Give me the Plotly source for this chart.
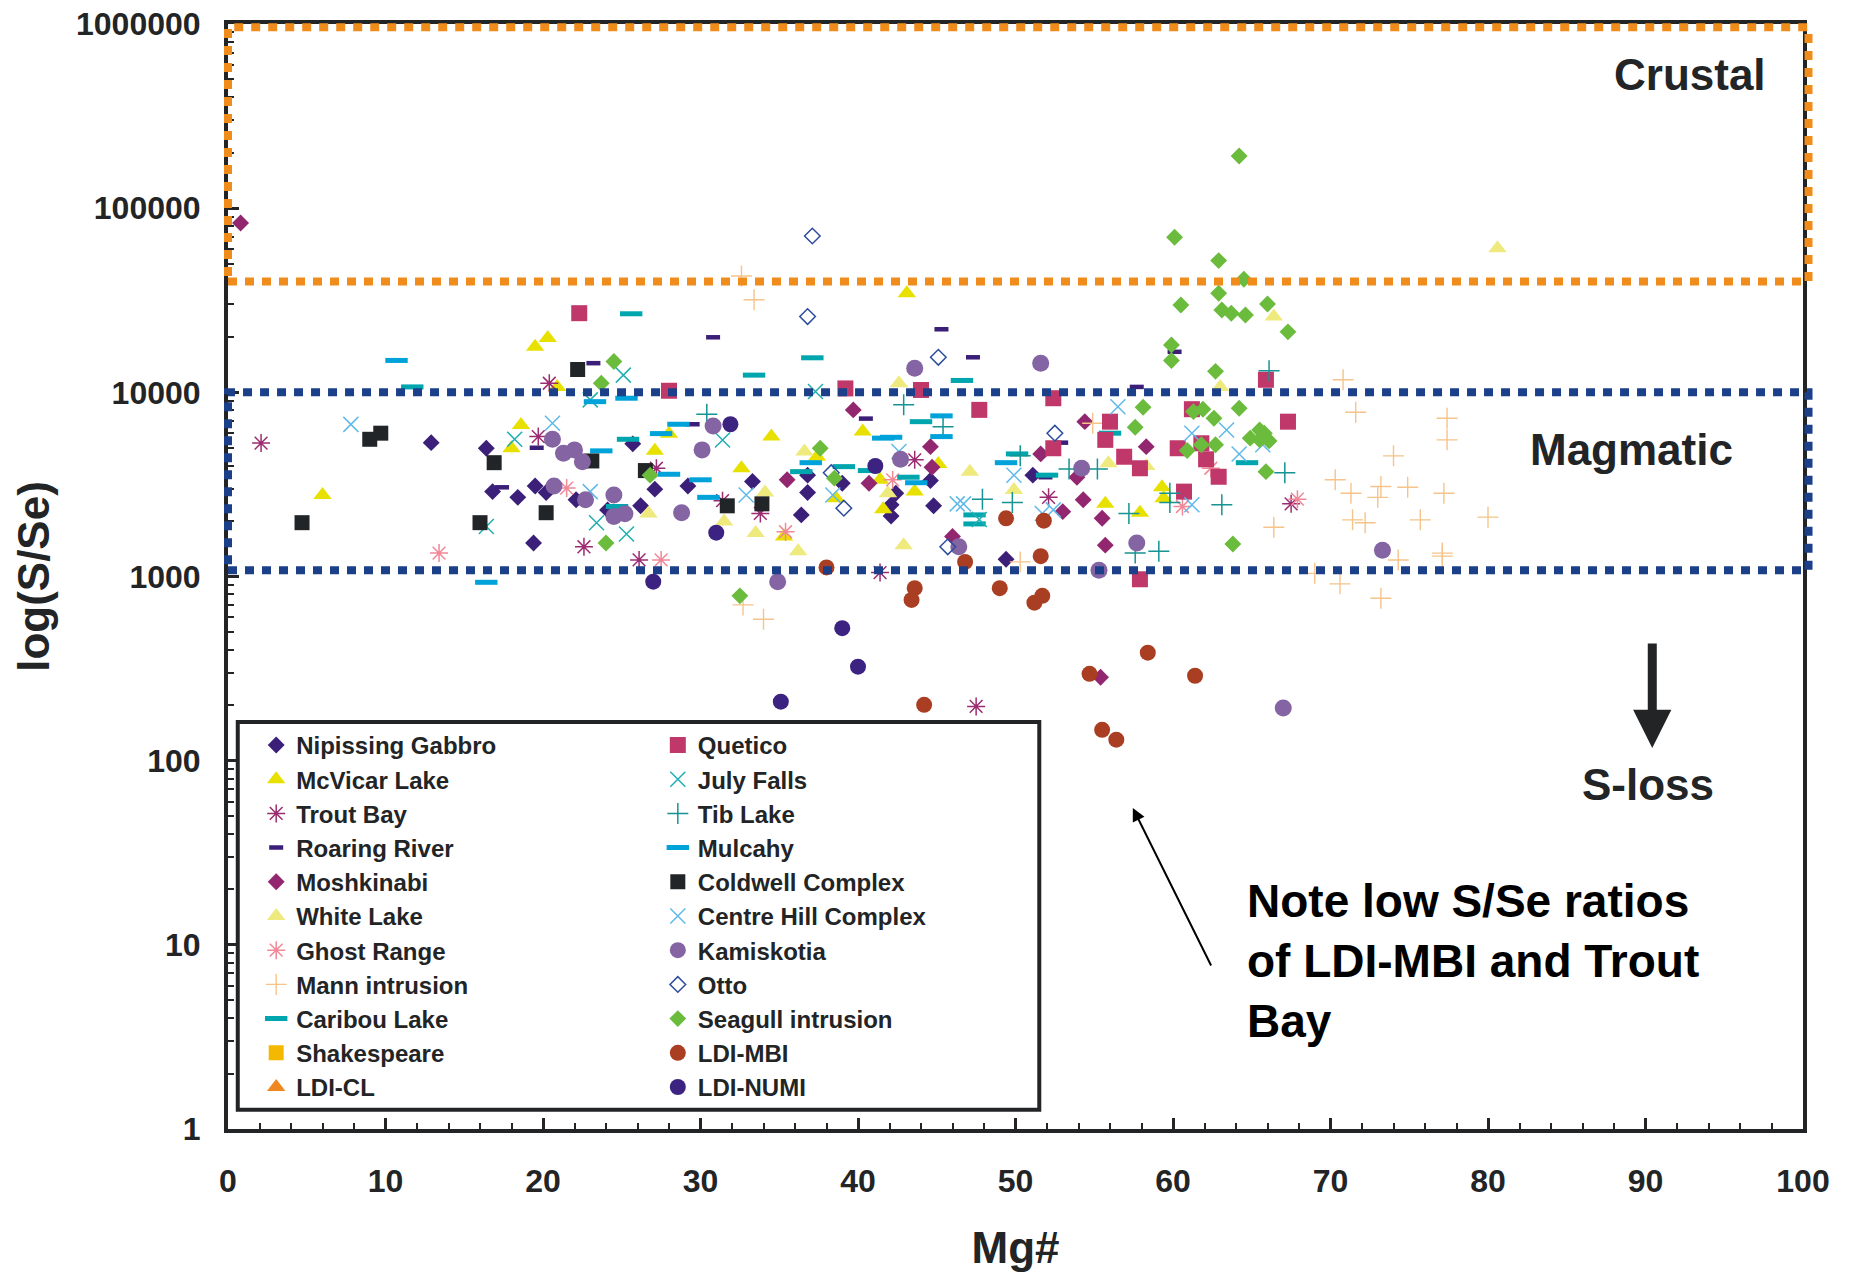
import math
import plotly.graph_objects as go

# ---------------- data (Mg#, S/Se) ----------------
NIPISSING_X = [12.9, 16.4, 16.8, 18.4, 19.4, 19.5, 20.2, 22.1, 24.1, 25.7, 26.2, 27.1, 29.2, 33.3, 36.8, 36.4, 36.8, 39.0, 42.4, 42.1, 42.1, 44.6, 44.8, 49.4, 51.1]
NIPISSING_Y = [5330, 4970, 2890, 2690, 1520, 3100, 2860, 2610, 2300, 5250, 2420, 2980, 3100, 3280, 2860, 2160, 3550, 3210, 2830, 2450, 2130, 3320, 2420, 1240, 3550]

MCVICAR_X = [6.0, 18.6, 18.0, 19.5, 20.3, 20.9, 27.1, 28.0, 32.6, 34.5, 35.3, 37.4, 38.6, 43.1, 40.3, 41.4, 43.6, 41.6, 45.1, 55.7, 57.9, 59.3, 59.4]
MCVICAR_Y = [2770, 6650, 4970, 17700, 19700, 10700, 4810, 5950, 3870, 5750, 1650, 4470, 2660, 34500, 6120, 3350, 2890, 2320, 4080, 2480, 2220, 3050, 2660]

TROUT_X = [2.1, 19.7, 20.4, 22.6, 26.1, 27.2, 31.4, 33.8, 41.4, 43.6, 52.1, 67.5, 47.5]
TROUT_Y = [5300, 5750, 11200, 1450, 1230, 3870, 2580, 2200, 1050, 4300, 2690, 2480, 197]

ROARING_X = [17.4, 19.6, 23.2, 29.5, 30.8, 40.5, 45.3, 47.3, 52.9, 51.9, 57.7, 60.1]
ROARING_Y = [3050, 5000, 14400, 6710, 19900, 7200, 22000, 15500, 5330, 3460, 10700, 16600]

MOSHKINABI_X = [0.8, 35.5, 39.7, 40.7, 44.6, 44.7, 46.0, 51.6, 53.9, 54.3, 54.4, 55.5, 55.7, 58.3, 55.4, 53.0]
MOSHKINABI_Y = [83000, 3350, 8030, 3210, 5070, 3920, 1650, 4630, 3460, 2610, 6930, 2070, 1480, 5070, 284, 2250]

WHITE_X = [80.6, 66.4, 63.0, 42.6, 26.7, 31.5, 34.1, 33.5, 36.2, 36.6, 41.9, 42.9, 47.1, 49.9, 55.9, 58.3]
WHITE_Y = [60500, 25800, 10700, 11200, 2200, 1990, 2860, 1720, 1370, 4770, 2830, 1480, 3710, 2950, 4120, 3980]

GHOST_X = [13.4, 21.5, 27.5, 35.4, 42.2, 60.6, 62.4, 67.9]
GHOST_Y = [1340, 3020, 1230, 1750, 3350, 2400, 3870, 2630]

MANN_X = [32.6, 33.4, 32.7, 34.0, 50.3, 54.9, 66.4, 70.8, 71.6, 77.4, 77.4, 74.0, 70.3, 71.3, 73.2, 73.0, 74.9, 77.2, 71.4, 72.2, 75.7, 80.0, 74.3, 77.1, 77.1, 69.0, 70.6, 73.2]
MANN_Y = [42800, 31800, 701, 586, 1200, 6800, 1850, 11700, 7800, 7230, 5520, 4520, 3350, 2830, 3080, 2690, 3050, 2830, 2030, 1960, 2030, 2100, 1230, 1340, 1290, 1040, 912, 762]

CARIBOU_X = [11.7, 25.6, 25.4, 24.7, 33.4, 37.1, 36.4, 39.1, 40.7, 44.0, 43.2, 46.6, 47.4, 47.4, 50.1, 52.0, 56.0, 64.7]
CARIBOU_Y = [10700, 26700, 5560, 2400, 12400, 15400, 3710, 3950, 3760, 6930, 3460, 11600, 2160, 1930, 4630, 3550, 6000, 4150]

SHAKESPEARE_X = [None]
SHAKESPEARE_Y = [None]

LDICL_X = [None]
LDICL_Y = [None]

QUETICO_X = [22.3, 28.0, 39.2, 44.0, 47.7, 52.4, 52.4, 55.7, 56.0, 56.9, 57.9, 57.9, 60.3, 61.2, 61.8, 62.1, 62.9, 60.7, 65.9, 67.3]
QUETICO_Y = [26900, 10200, 10500, 10300, 8030, 9290, 4970, 5520, 6930, 4470, 3870, 966, 4970, 8100, 5290, 4330, 3480, 2890, 11700, 6930]

JULY_X = [16.4, 18.2, 23.4, 25.3, 25.1, 23.0, 31.4, 37.3, 47.7]
JULY_Y = [1870, 5560, 1960, 1700, 12400, 9100, 5510, 10100, 2040]

TIB_X = [30.4, 42.9, 45.4, 47.9, 49.8, 50.3, 53.4, 55.2, 57.2, 57.6, 59.1, 59.8, 59.8, 63.1, 66.1, 67.1]
TIB_Y = [7600, 8550, 6510, 2630, 2520, 4520, 3830, 3830, 2200, 1340, 1370, 2830, 2520, 2450, 13100, 3660]

MULCAHY_X = [10.7, 16.4, 23.3, 25.3, 23.7, 27.5, 28.6, 28.0, 30.0, 30.5, 37.0, 41.6, 42.1, 43.7, 45.3, 45.3, 49.4]
MULCAHY_Y = [14900, 930, 8900, 9290, 4810, 5970, 6710, 3590, 3350, 2690, 4150, 5640, 5700, 3230, 7450, 5750, 4150]

COLDWELL_X = [4.7, 9.0, 9.7, 16.0, 16.9, 20.2, 22.2, 23.1, 26.5, 31.7, 33.9]
COLDWELL_Y = [1960, 5560, 6000, 1960, 4150, 2220, 13300, 4240, 3760, 2420, 2480]

CENTRE_X = [7.8, 20.6, 23.0, 32.9, 38.4, 42.6, 46.3, 46.7, 49.9, 52.4, 51.7, 56.5, 61.2, 63.4, 64.2, 65.7, 61.2]
CENTRE_Y = [6700, 6800, 2890, 2770, 2770, 4770, 2480, 2480, 3550, 2300, 2200, 8360, 6000, 6250, 4630, 5190, 2450]

KAMISKOTIA_X = [20.6, 20.7, 21.3, 22.0, 22.5, 22.7, 24.5, 24.5, 25.2, 28.8, 30.1, 30.8, 34.9, 42.7, 43.6, 46.4, 51.6, 54.2, 55.3, 57.7, 67.0, 73.3]
KAMISKOTIA_Y = [5560, 3100, 4670, 4870, 4200, 2610, 2770, 2120, 2190, 2220, 4870, 6570, 937, 4330, 13500, 1450, 14400, 3870, 1080, 1520, 193, 1390]

OTTO_X = [37.1, 36.8, 45.1, 52.5, 38.3, 39.1, 45.7]
OTTO_Y = [70600, 25800, 15500, 6000, 3660, 2350, 1450]

SEAGULL_X = [64.2, 60.1, 62.9, 64.5, 62.9, 60.5, 63.1, 63.7, 64.6, 66.0, 67.3, 59.9, 59.9, 62.7, 23.7, 24.5, 24.0, 26.8, 32.5, 37.6, 38.5, 58.1, 57.6, 61.3, 61.9, 62.6, 64.2, 60.9, 61.8, 62.7, 65.5, 65.8, 64.9, 66.1, 65.5, 65.9, 63.8]
SEAGULL_Y = [192000, 69500, 51900, 41100, 34500, 29800, 28000, 26900, 26300, 30200, 21300, 18100, 14900, 13000, 11200, 14700, 1520, 3550, 785, 4970, 3420, 8300, 6460, 7860, 8100, 7230, 8200, 4830, 5190, 5190, 6250, 6000, 5640, 5450, 5520, 3710, 1500]

LDIMBI_X = [38.0, 49.4, 51.8, 51.6, 46.8, 43.6, 43.4, 49.0, 51.7, 51.2, 58.4, 54.7, 61.4, 44.2, 55.5, 56.4]
LDIMBI_Y = [1120, 2070, 2010, 1290, 1200, 864, 746, 864, 785, 721, 386, 296, 289, 201, 147, 130]

LDINUMI_X = [27.0, 31.0, 31.9, 41.1, 39.0, 40.0, 35.1]
LDINUMI_Y = [937, 1730, 6710, 3980, 524, 324, 209]

X_TICK_VALUES = [0, 10, 20, 30, 40, 50, 60, 70, 80, 90, 100]
Y_TICK_VALUES = [1, 10, 100, 1000, 10000, 100000, 1000000]
Y_TICK_LABELS = ["1", "10", "100", "1000", "10000", "100000", "1000000"]

# field boundaries (S/Se)
CRUSTAL_LOW, CRUSTAL_HIGH = 40000, 960000
MAGMATIC_LOW, MAGMATIC_HIGH = 1080, 10000

# ---------------- styles ----------------
# name, x, y, symbol, color, size, open-line width, legend
SERIES = [
    ("Nipissing Gabbro", NIPISSING_X, NIPISSING_Y, "diamond", "#3B1F78", 13, 0, "legend"),
    ("McVicar Lake", MCVICAR_X, MCVICAR_Y, "triangle-up", "#E8E100", 16, 0, "legend"),
    ("Trout Bay", TROUT_X, TROUT_Y, "asterisk-open", "#9C2C72", 15, 1.5, "legend"),
    ("Roaring River", ROARING_X, ROARING_Y, "line-ew-open", "#3A1E78", 10, 4.5, "legend"),
    ("Moshkinabi", MOSHKINABI_X, MOSHKINABI_Y, "diamond", "#92276F", 13, 0, "legend"),
    ("White Lake", WHITE_X, WHITE_Y, "triangle-up", "#EEEA7E", 16, 0, "legend"),
    ("Ghost Range", GHOST_X, GHOST_Y, "asterisk-open", "#F08898", 15, 1.5, "legend"),
    ("Mann intrusion", MANN_X, MANN_Y, "cross-thin-open", "#F6C48A", 15, 1.4, "legend"),
    ("Caribou Lake", CARIBOU_X, CARIBOU_Y, "line-ew-open", "#00A6AD", 16, 5, "legend"),
    ("Shakespeare", SHAKESPEARE_X, SHAKESPEARE_Y, "square", "#F5B800", 15, 0, "legend"),
    ("LDI-CL", LDICL_X, LDICL_Y, "triangle-up", "#F08820", 16, 0, "legend"),
    ("Quetico", QUETICO_X, QUETICO_Y, "square", "#C0386A", 16, 0, "legend2"),
    ("July Falls", JULY_X, JULY_Y, "x-thin-open", "#21AFAF", 15, 1.5, "legend2"),
    ("Tib Lake", TIB_X, TIB_Y, "cross-thin-open", "#169393", 15, 1.5, "legend2"),
    ("Mulcahy", MULCAHY_X, MULCAHY_Y, "line-ew-open", "#00A2DA", 16, 5, "legend2"),
    ("Coldwell Complex", COLDWELL_X, COLDWELL_Y, "square", "#222528", 15, 0, "legend2"),
    ("Centre Hill Complex", CENTRE_X, CENTRE_Y, "x-thin-open", "#5FB9EA", 15, 1.5, "legend2"),
    ("Kamiskotia", KAMISKOTIA_X, KAMISKOTIA_Y, "circle", "#8464A2", 17, 0, "legend2"),
    ("Otto", OTTO_X, OTTO_Y, "diamond-open", "#2D4C9C", 12, 1.5, "legend2"),
    ("Seagull intrusion", SEAGULL_X, SEAGULL_Y, "diamond", "#6BBC3D", 13, 0, "legend2"),
    ("LDI-MBI", LDIMBI_X, LDIMBI_Y, "circle", "#A93E22", 16, 0, "legend2"),
    ("LDI-NUMI", LDINUMI_X, LDINUMI_Y, "circle", "#3C2382", 16, 0, "legend2"),
]

FONT = "Liberation Sans, Arial, Helvetica, sans-serif"
INK = "#222426"
ORANGE = "#F08C1C"
BLUE = "#1C3F8A"

fig = go.Figure()
for name, xs, ys, sym, col, size, lw, leg in SERIES:
    if lw > 0:
        marker = dict(symbol=sym, size=size, color=col, line=dict(color=col, width=lw))
    else:
        marker = dict(symbol=sym, size=size, color=col, line=dict(width=0))
    fig.add_trace(go.Scatter(x=xs, y=ys, mode="markers", name=name, marker=marker,
                             legend=leg, showlegend=True, cliponaxis=False))

def py(v):
    return math.log10(v) / 6.0

shapes = [
    dict(type="rect", xref="paper", yref="paper", x0=0, x1=1.0035,
         y0=py(CRUSTAL_LOW), y1=py(CRUSTAL_HIGH), layer="above",
         line=dict(color=ORANGE, width=8, dash="9px,8px")),
    dict(type="rect", xref="paper", yref="paper", x0=0, x1=1.0035,
         y0=py(MAGMATIC_LOW), y1=py(MAGMATIC_HIGH), layer="above",
         line=dict(color=BLUE, width=8, dash="9px,8px")),
    dict(type="rect", xref="paper", yref="paper", x0=0.0062, x1=0.5151,
         y0=0.0175, y1=0.3683, layer="above", fillcolor="white",
         line=dict(color=INK, width=4)),
]

annotations = [
    dict(text="Crustal", x=0.9284, y=0.9544, xref="paper", yref="paper", showarrow=False,
         xanchor="center", yanchor="middle", font=dict(family=FONT, size=44, color=INK, weight="bold")),
    dict(text="Magmatic", x=0.891, y=0.6151, xref="paper", yref="paper", showarrow=False,
         xanchor="center", yanchor="middle", font=dict(family=FONT, size=44, color=INK, weight="bold")),
    dict(text="S-loss", x=0.9018, y=0.3122, xref="paper", yref="paper", showarrow=False,
         xanchor="center", yanchor="middle", font=dict(family=FONT, size=44, color=INK, weight="bold")),
    dict(text="Note low S/Se ratios<br>of LDI-MBI and Trout<br>Bay", x=0.6455, y=0.2317,
         xref="paper", yref="paper", showarrow=False, xanchor="left", yanchor="top", align="left",
         font=dict(family=FONT, size=46, color="black", weight="bold")),
    dict(text="", x=0.5745, y=0.2905, xref="paper", yref="paper", ax=79, ay=159,
         showarrow=True, arrowhead=2, arrowsize=1.3, arrowwidth=2, arrowcolor="black"),
    dict(text="", x=0.9043, y=0.3448, xref="paper", yref="paper", ax=0, ay=-106,
         showarrow=True, arrowhead=2, arrowsize=0.85, arrowwidth=9, arrowcolor=INK),
]

legend_font = dict(family=FONT, size=24, color=INK, weight="bold")

fig.update_layout(
    width=1854, height=1272,
    margin=dict(l=228, r=51, t=24, b=143),
    plot_bgcolor="white", paper_bgcolor="white",
    font=dict(family=FONT, color=INK),
    shapes=shapes, annotations=annotations,
    legend=dict(x=0.0179, y=0.3675, xanchor="left", yanchor="top", bgcolor="rgba(0,0,0,0)",
                borderwidth=0, font=legend_font, tracegroupgap=0),
    legend2=dict(x=0.2729, y=0.3675, xanchor="left", yanchor="top", bgcolor="rgba(0,0,0,0)",
                 borderwidth=0, font=legend_font, tracegroupgap=0),
    xaxis=dict(range=[0, 100], tickmode="array", tickvals=X_TICK_VALUES, automargin=False,
               ticks="inside", ticklen=11, tickwidth=2.5, tickcolor=INK,
               minor=dict(ticks="inside", ticklen=6, tickwidth=2, tickcolor=INK, dtick=2, tick0=0),
               showline=True, linewidth=4, linecolor=INK, mirror=True,
               showgrid=False, zeroline=False, ticklabelstandoff=21,
               tickfont=dict(family=FONT, size=32, color=INK, weight="bold"),
               title=dict(text="Mg#", standoff=37,
                          font=dict(family=FONT, size=44, color=INK, weight="bold"))),
    yaxis=dict(type="log", range=[0, 6], tickmode="array", tickvals=Y_TICK_VALUES,
               ticktext=Y_TICK_LABELS, automargin=False,
               ticks="inside", ticklen=11, tickwidth=2.5, tickcolor=INK,
               minor=dict(ticks="inside", ticklen=6, tickwidth=2, tickcolor=INK, dtick="D1"),
               showline=True, linewidth=4, linecolor=INK, mirror=True,
               showgrid=False, zeroline=False, ticklabelstandoff=17,
               tickfont=dict(family=FONT, size=32, color=INK, weight="bold"),
               title=dict(text="log(S/Se)", standoff=14,
                          font=dict(family=FONT, size=44, color=INK, weight="bold"))),
)

fig.write_html("out.html", config={"displayModeBar": False},
               post_script="document.body.style.margin='0';")
